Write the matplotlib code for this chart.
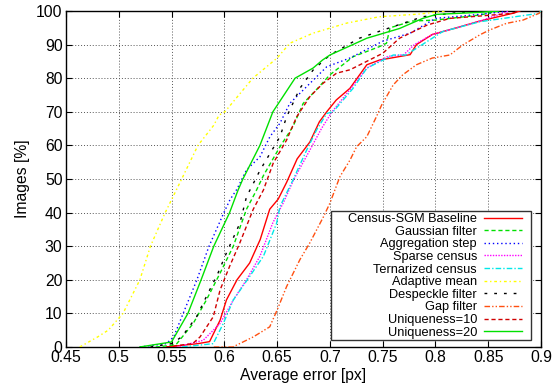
import matplotlib
matplotlib.use("Agg")
import matplotlib.pyplot as plt
from matplotlib.patches import Rectangle

plt.rcParams['font.family'] = ['Liberation Sans', 'DejaVu Sans']

# ---------------- data (average error [px] vs cumulative % of images) -------------
base_x = [0.545, 0.575, 0.586, 0.596, 0.602, 0.612, 0.624, 0.634, 0.643, 0.651, 0.659, 0.669,
          0.681, 0.690, 0.697, 0.706, 0.719, 0.735, 0.747, 0.776, 0.782, 0.797, 0.820, 0.842, 0.873, 0.880]
base_y = [0, 1, 1.6, 8, 14, 20, 25, 32, 41, 44, 49, 56, 61, 67, 70, 73.5, 77, 84, 85.4, 87, 90, 93, 95, 97, 99.3, 100]

gauss_x = [0.535, 0.550, 0.555, 0.5705, 0.583, 0.596, 0.6085, 0.621, 0.6305, 0.637, 0.6527, 0.665,
           0.6747, 0.687, 0.700, 0.722, 0.747, 0.7536, 0.757, 0.778, 0.800, 0.842, 0.860]
gauss_y = [0, 0.5, 1, 7, 14, 22, 30, 41, 46.7, 51, 59.6, 65.6, 72.5, 76.5, 81, 86.4, 89.4, 90.4, 95, 97, 97.3, 98.8, 100]

aggr_x = [0.520, 0.545, 0.552, 0.561, 0.574, 0.5855, 0.5996, 0.6053, 0.612, 0.621, 0.6337, 0.6432,
          0.6527, 0.662, 0.678, 0.697, 0.719, 0.750, 0.776, 0.800, 0.842, 0.870]
aggr_y = [0, 1, 3, 10, 20, 30, 40, 43.8, 47, 52.7, 56.6, 62.6, 66.6, 72.5, 77.5, 83.4, 86, 91, 93.4, 97.8, 99, 100]

sparse_x = [0.555, 0.580, 0.596, 0.6085, 0.621, 0.6337, 0.646, 0.656, 0.666, 0.680, 0.692, 0.702,
            0.720, 0.735, 0.755, 0.770, 0.780, 0.797, 0.820, 0.842, 0.870]
sparse_y = [0, 2, 7, 14, 20, 27, 37, 43, 50, 58, 65, 70, 77, 83, 86.5, 87, 90, 93, 95, 97, 100]

tern_x = [0.560, 0.5895, 0.599, 0.6085, 0.624, 0.637, 0.6495, 0.6527, 0.665, 0.678, 0.6874, 0.697,
          0.703, 0.722, 0.735, 0.760, 0.772, 0.792, 0.807, 0.842, 0.898, 0.900]
tern_y = [0, 1, 7, 14, 21, 27, 36.8, 41.8, 49.7, 58.6, 64.6, 69.5, 70, 77, 83, 86.9, 86.9, 90.9, 93.9, 96.8, 99.3, 100]

adapt_x = [0.463, 0.480, 0.490, 0.504, 0.520, 0.530, 0.544, 0.5596, 0.575, 0.590, 0.595, 0.6005,
           0.627, 0.650, 0.662, 0.684, 0.716, 0.747, 0.785, 0.810]
adapt_y = [0, 3, 5, 10, 20, 30, 40, 50, 60, 66, 69, 70, 80, 86, 90.4, 93.4, 96.4, 98.3, 99.1, 100]

desp_x = [0.530, 0.550, 0.5596, 0.5737, 0.583, 0.594, 0.602, 0.6147, 0.621, 0.634, 0.6527, 0.659,
          0.6716, 0.684, 0.700, 0.728, 0.750, 0.788, 0.823, 0.850]
desp_y = [0, 1, 3, 9, 15, 22, 28, 36.8, 44.7, 52.7, 62.6, 68.5, 77, 82.4, 86.9, 91.9, 94.3, 98.3, 99.6, 100]

gap_x = [0.590, 0.608, 0.6274, 0.643, 0.650, 0.659, 0.6716, 0.681, 0.694, 0.700, 0.7095, 0.719,
         0.7253, 0.735, 0.744, 0.749, 0.760, 0.769, 0.782, 0.797, 0.8136, 0.826, 0.842, 0.851,
         0.867, 0.883, 0.898, 0.900]
gap_y = [0, 0, 3, 6, 11, 18, 26, 31, 38.8, 42.8, 50.7, 55.6, 59.6, 62.6, 68.5, 72, 78, 81, 84, 86,
         86.9, 89.9, 92.9, 94.3, 96.3, 97.3, 99.3, 100]

u10_x = [0.545, 0.570, 0.577, 0.5895, 0.596, 0.605, 0.6147, 0.6274, 0.637, 0.6463, 0.659, 0.6685,
         0.681, 0.6936, 0.7063, 0.719, 0.750, 0.766, 0.792, 0.8136, 0.842, 0.873, 0.880]
u10_y = [0, 1, 3, 9, 17, 24, 31, 41, 46.7, 54.7, 61.6, 68.5, 74.5, 78.5, 81.5, 82.5, 87.4, 91.9,
         95.8, 97.8, 98.5, 99.3, 100]

u20_x = [0.520, 0.540, 0.550, 0.5655, 0.578, 0.590, 0.605, 0.613, 0.6176, 0.6337, 0.646, 0.667,
         0.684, 0.693, 0.700, 0.735, 0.766, 0.788, 0.801, 0.842, 0.860]
u20_y = [0, 1, 1.5, 10, 20, 30, 40, 46.7, 50, 60, 70, 80, 83, 85.4, 86.9, 91.9, 94.8, 97.8, 99, 99.6, 100]

labels = ["Census-SGM Baseline", "Gaussian filter", "Aggregation step", "Sparse census",
          "Ternarized census", "Adaptive mean", "Despeckle filter", "Gap filter",
          "Uniqueness=10", "Uniqueness=20"]

x_ticks = [0.45, 0.5, 0.55, 0.6, 0.65, 0.7, 0.75, 0.8, 0.85, 0.9]
x_ticklabels = ["0.45", "0.5", "0.55", "0.6", "0.65", "0.7", "0.75", "0.8", "0.85", "0.9"]
y_ticks = [0, 10, 20, 30, 40, 50, 60, 70, 80, 90, 100]

# ---------------- figure ----------------
fig = plt.figure(figsize=(5.6, 3.86), dpi=100)
ax = fig.add_axes([66/560, 1-347/386, (541-66)/560, (347-11)/386])

series = [
    (base_x, base_y, dict(color='#ff0000', linestyle='-')),
    (gauss_x, gauss_y, dict(color='#00e000', linestyle=(0, (3, 2)))),
    (aggr_x, aggr_y, dict(color='#0000ff', linestyle=(0, (1, 2)))),
    (sparse_x, sparse_y, dict(color='#ff00ff', linestyle=(0, (1, 1)))),
    (tern_x, tern_y, dict(color='#00e8e8', linestyle=(0, (4, 1.5, 1, 1.5)))),
    (adapt_x, adapt_y, dict(color='#ffff00', linestyle=(0, (2, 2, 1, 2)))),
    (desp_x, desp_y, dict(color='#000000', linestyle=(0, (2, 5)))),
    (gap_x, gap_y, dict(color='#ff5010', linestyle=(0, (4, 1.5, 1, 1.5, 1, 1.5)))),
    (u10_x, u10_y, dict(color='#d00000', linestyle=(0, (3, 2)))),
    (u20_x, u20_y, dict(color='#00e000', linestyle='-')),
]
handles = []
for (xs, ys, st), lab in zip(series, labels):
    h, = ax.plot(xs, ys, lw=1.0, label=lab, zorder=3, **st)
    handles.append(h)

ax.set_xlim(0.45, 0.9)
ax.set_ylim(0, 100)
ax.set_xticks(x_ticks)
ax.set_xticklabels(x_ticklabels)
ax.set_yticks(y_ticks)
ax.tick_params(direction='in', length=4, width=0.8, labelsize=11.3, top=True, right=True, pad=2.5)
ax.grid(True, color='#555555', linestyle=(0, (1, 2)), linewidth=0.7)
for s in ax.spines.values():
    s.set_linewidth(1.0)

ax.set_xlabel("Average error [px]", fontsize=11.3, labelpad=2)
ax.set_ylabel("Images [%]", fontsize=11.3, labelpad=4)

# legend box (gnuplot style)
x0 = (331-66)/475
x1 = (531-66)/475
y0 = (347-340)/336
y1 = (347-211)/336
rect = Rectangle((x0, y0), x1-x0, y1-y0, transform=ax.transAxes, facecolor='white',
                 edgecolor='#333333', linewidth=1.0, zorder=4.5)
ax.add_patch(rect)
leg = ax.legend(handles=handles, loc='upper right', bbox_to_anchor=(x1 - 0.018, y1 - 0.006),
                frameon=False, markerfirst=False, fontsize=9.2, labelspacing=0.05,
                handlelength=3.0, handletextpad=0.55, borderpad=0, borderaxespad=0)
leg.set_zorder(5)

fig.savefig("out.png", dpi=100)
